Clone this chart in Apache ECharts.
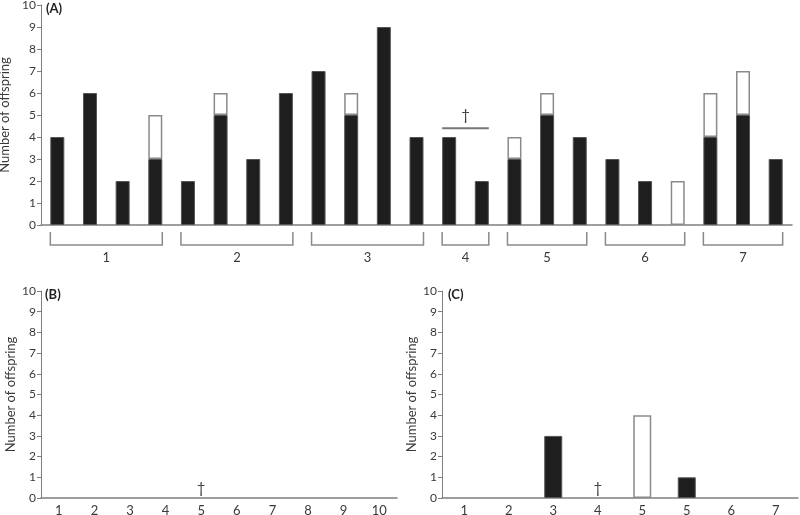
<!DOCTYPE html>
<html><head><meta charset="utf-8">
<script src="https://cdn.jsdelivr.net/npm/echarts@6/dist/echarts.min.js"></script>
<style>html,body{margin:0;padding:0;background:#fff}#c{width:800px;height:515px}</style>
</head><body><div id="c"></div>
<script>
// Panel A
const catsA = ['a1','a2','a3','a4','b1','b2','b3','b4','c1','c2','c3','c4','d1','d2','e1','e2','e3','f1','f2','f3','g1','g2','g3'];
const blackA = [4,6,2,3, 2,5,3,6, 7,5,9,4, 4,2, 3,5,4, 3,2,null, 4,5,3];
const whiteA = [null,null,null,2, null,1,null,null, null,1,null,null, null,null, 1,1,null, null,null,2, 2,2,null];
const groupLabels = ['1','2','3','4','5','6','7'];
const groupStart = [0,4,8,12,14,17,20];
const groupEnd = [3,7,11,13,16,19,22];
const daggerLineA = [[12,13,4.4]];
// Panel B
const catsB = ['1','2','3','4','5','6','7','8','9','10'];
const daggerB = [[4,0]];
// Panel C
const catsC = ['1','2','3','4','5','5','6','7'];
const blackC = [null,null,3,null,null,1,null,null];
const whiteC = [null,null,null,null,4,null,null,null];
const daggerC = [[3,0]];
const yTicks = [0,10,1]; // min, max, interval

const FONT = 'Lato, "Open Sans", sans-serif';
const TXT = '#3a3a3a';
const AX = '#7f7f7f';

function yAxis(gi){
  return {type:'value', gridIndex:gi, min:yTicks[0], max:yTicks[1], interval:yTicks[2],
    name:'Number of offspring', nameLocation:'middle', nameRotate:90, nameGap:24,
    nameTextStyle:{fontFamily:FONT, fontSize:13, color:TXT},
    axisLine:{show:true, lineStyle:{color:AX, width:1}},
    axisTick:{show:true, length:4, lineStyle:{color:AX}},
    axisLabel:{fontFamily:FONT, fontSize:12, color:TXT, margin:5},
    splitLine:{show:false}};
}
function xAxis(gi, cats, showLabels){
  return {type:'category', gridIndex:gi, data:cats,
    axisLine:{show:true, lineStyle:{color:AX, width:1.5}},
    axisTick:{show:false},
    axisLabel:{show:showLabels, fontFamily:FONT, fontSize:13, color:TXT, margin:6}};
}
const blackStyle = {color:'#1e1e1e', borderColor:'#555', borderWidth:1};
const whiteStyle = {color:'#ffffff', borderColor:'#8a8a8a', borderWidth:1.5};

function daggerSeries(xi, yi, data){
  return {type:'custom', xAxisIndex:xi, yAxisIndex:yi, data:data, silent:true,
    renderItem:function(params, api){
      const p = api.coord([api.value(0), api.value(1)]);
      return {type:'text', style:{text:'†', x:p[0], y:p[1]-2, align:'center', verticalAlign:'bottom',
        font:'15px '+FONT, fill:TXT}};
    }};
}

const option = {
  animation:false,
  grid:[
    {left:41, top:5, width:751, height:220, outerBoundsMode:'none', containLabel:false},
    {left:41, top:291, width:356, height:207, outerBoundsMode:'none', containLabel:false},
    {left:442, top:291, width:356, height:207, outerBoundsMode:'none', containLabel:false}
  ],
  xAxis:[xAxis(0,catsA,false), xAxis(1,catsB,true), xAxis(2,catsC,true)],
  yAxis:[yAxis(0), yAxis(1), yAxis(2)],
  graphic:[
    {type:'text', left:46, top:2, style:{text:'(A)', font:'bold 13px '+FONT, fill:'#222'}},
    {type:'text', left:45, top:288, style:{text:'(B)', font:'bold 13px '+FONT, fill:'#222'}},
    {type:'text', left:448, top:288, style:{text:'(C)', font:'bold 13px '+FONT, fill:'#222'}}
  ],
  series:[
    {type:'bar', xAxisIndex:0, yAxisIndex:0, stack:'A', data:blackA, barWidth:14, itemStyle:blackStyle},
    {type:'bar', xAxisIndex:0, yAxisIndex:0, stack:'A', data:whiteA, barWidth:14, itemStyle:whiteStyle},
    {type:'custom', xAxisIndex:0, yAxisIndex:0, silent:true,
      data: groupStart.map((s,i)=>[s, groupEnd[i]]),
      renderItem:function(params, api){
        const i = params.dataIndex;
        const p0 = api.coord([api.value(0), 0]);
        const p1 = api.coord([api.value(1), 0]);
        const hw = 7, x0 = p0[0]-hw, x1 = p1[0]+hw, y = p0[1];
        return {type:'group', children:[
          {type:'polyline', shape:{points:[[x0,y+7],[x0,y+20],[x1,y+20],[x1,y+7]]},
            style:{stroke:'#8a8a8a', lineWidth:1.5, fill:null}},
          {type:'text', style:{text:groupLabels[i], x:(x0+x1)/2, y:y+33, align:'center', verticalAlign:'middle',
            font:'13px '+FONT, fill:TXT}}
        ]};
      }},
    {type:'custom', xAxisIndex:0, yAxisIndex:0, silent:true, data:daggerLineA,
      renderItem:function(params, api){
        const p0 = api.coord([api.value(0), api.value(2)]);
        const p1 = api.coord([api.value(1), api.value(2)]);
        const x0 = p0[0]-7, x1 = p1[0]+7, y = p0[1];
        return {type:'group', children:[
          {type:'line', shape:{x1:x0, y1:y, x2:x1, y2:y}, style:{stroke:'#777', lineWidth:2}},
          {type:'text', style:{text:'†', x:(x0+x1)/2, y:y-6, align:'center', verticalAlign:'bottom',
            font:'15px '+FONT, fill:TXT}}
        ]};
      }},
    daggerSeries(1,1,daggerB),
    {type:'bar', xAxisIndex:2, yAxisIndex:2, stack:'C', data:blackC, barWidth:18, itemStyle:blackStyle},
    {type:'bar', xAxisIndex:2, yAxisIndex:2, stack:'C', data:whiteC, barWidth:18, itemStyle:whiteStyle},
    daggerSeries(2,2,daggerC)
  ]
};
const chart = echarts.init(document.getElementById('c'), null, {renderer:'canvas'});
chart.setOption(option);
</script></body></html>
